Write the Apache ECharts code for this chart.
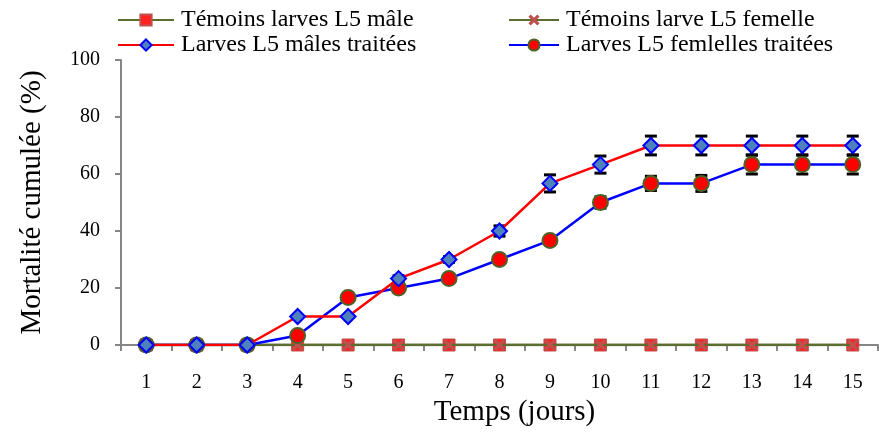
<!DOCTYPE html>
<html><head><meta charset="utf-8">
<script src="https://cdn.jsdelivr.net/npm/echarts@6/dist/echarts.min.js"></script>
<style>html,body{margin:0;padding:0;background:#fff}#c{width:879px;height:435px}</style>
</head><body><div id="c"></div>
<script>
const days = ['1','2','3','4','5','6','7','8','9','10','11','12','13','14','15'];
const ctrlMale = [0,0,0,0,0,0,0,0,0,0,0,0,0,0,0];
const ctrlFemale = [0,0,0,0,0,0,0,0,0,0,0,0,0,0,0];
const maleTreated = [0,0,0,10,10,23.3,30,40,56.7,63.3,70,70,70,70,70];
const femaleTreated = [0,0,0,3.3,16.7,20,23.3,30,36.7,50,56.7,56.7,63.3,63.3,63.3];
const maleErr = [0,0,0,0,0,1,1,1.8,3,3,3.3,3.3,3.3,3.3,3.3];
const femaleErr = [0,0,0,0,0,0,1,1,1.5,2,2.5,2.8,3.3,3.3,3.3];

const FONT = '"Liberation Serif","Times New Roman",serif';
const crossPath = 'path://M2,0 L5,3 L8,0 L10,2 L7,5 L10,8 L8,10 L5,7 L2,10 L0,8 L3,5 L0,2 Z';

function errSeries(vals, errs) {
  return {
    type: 'custom', z: 1, silent: true,
    data: vals.map((v, i) => [i, v - errs[i], v + errs[i]]).filter((d, i) => errs[i] > 0),
    renderItem: function (params, api) {
      const lo = api.coord([api.value(0), api.value(1)]);
      const hi = api.coord([api.value(0), api.value(2)]);
      const hw = 6;
      const st = { stroke: '#000', lineWidth: 3 };
      return { type: 'group', children: [
        { type: 'line', shape: { x1: lo[0], y1: lo[1], x2: hi[0], y2: hi[1] }, style: st },
        { type: 'line', shape: { x1: lo[0]-hw, y1: lo[1], x2: lo[0]+hw, y2: lo[1] }, style: st },
        { type: 'line', shape: { x1: hi[0]-hw, y1: hi[1], x2: hi[0]+hw, y2: hi[1] }, style: st }
      ]};
    }
  };
}

const legendText = { fontFamily: FONT, fontSize: 24, color: '#000', padding: [0, 0, 0, 2] };
const chart = echarts.init(document.getElementById('c'));
chart.setOption({
  animation: false,
  textStyle: { fontFamily: FONT },
  legend: [
    { left: 112, top: 3, orient: 'vertical', itemWidth: 56, itemHeight: 14, itemGap: 1,
      textStyle: legendText,
      data: ['Témoins larves L5 mâle', 'Larves L5 mâles traitées'] },
    { left: 503, top: 3, orient: 'vertical', itemWidth: 50, itemHeight: 14, itemGap: 1,
      textStyle: legendText,
      data: ['Témoins larve L5 femelle', 'Larves L5 femlelles traitées'] }
  ],
  grid: { left: 121, right: 1, top: 60, bottom: 90 },
  xAxis: {
    type: 'category', data: days, boundaryGap: true,
    name: 'Temps (jours)', nameLocation: 'middle', nameGap: 50,
    nameTextStyle: { fontFamily: FONT, fontSize: 29, color: '#000', padding: [0, 0, 0, 30] },
    axisLine: { lineStyle: { color: '#868686', width: 2 } },
    axisTick: { show: true, length: 6, lineStyle: { color: '#868686', width: 2 } },
    axisLabel: { fontFamily: FONT, fontSize: 20, color: '#000', margin: 28 }
  },
  yAxis: {
    type: 'value', min: 0, max: 100, interval: 20,
    name: 'Mortalité cumulée (%)', nameLocation: 'middle', nameGap: 74,
    nameTextStyle: { fontFamily: FONT, fontSize: 29, color: '#000' },
    axisLine: { show: true, lineStyle: { color: '#868686', width: 2 } },
    axisTick: { show: true, length: 6, lineStyle: { color: '#868686', width: 2 } },
    axisLabel: { fontFamily: FONT, fontSize: 20, color: '#000', margin: 21 },
    splitLine: { show: false }
  },
  series: [
    errSeries(maleTreated, maleErr),
    errSeries(femaleTreated, femaleErr),
    { name: 'Témoins larves L5 mâle', type: 'line', data: ctrlMale, z: 2,
      symbol: 'rect', symbolSize: 12,
      lineStyle: { color: '#5B6E2F', width: 2.5 },
      itemStyle: { color: '#FF2020', borderColor: '#C0504D', borderWidth: 1 } },
    { name: 'Témoins larve L5 femelle', type: 'line', data: ctrlFemale, z: 3,
      symbol: crossPath, symbolSize: 12,
      lineStyle: { color: '#5B6E2F', width: 2.5 },
      itemStyle: { color: '#C0504D' } },
    { name: 'Larves L5 mâles traitées', type: 'line', data: maleTreated, z: 5,
      symbol: 'diamond', symbolSize: 15,
      lineStyle: { color: '#FF0000', width: 2.5 },
      itemStyle: { color: '#4F81BD', borderColor: '#0000FF', borderWidth: 2 } },
    { name: 'Larves L5 femlelles traitées', type: 'line', data: femaleTreated, z: 4,
      symbol: 'circle', symbolSize: 15,
      lineStyle: { color: '#0000FF', width: 2.5 },
      itemStyle: { color: '#FF0000', borderColor: '#4F6228', borderWidth: 2 } }
  ]
});
</script></body></html>
